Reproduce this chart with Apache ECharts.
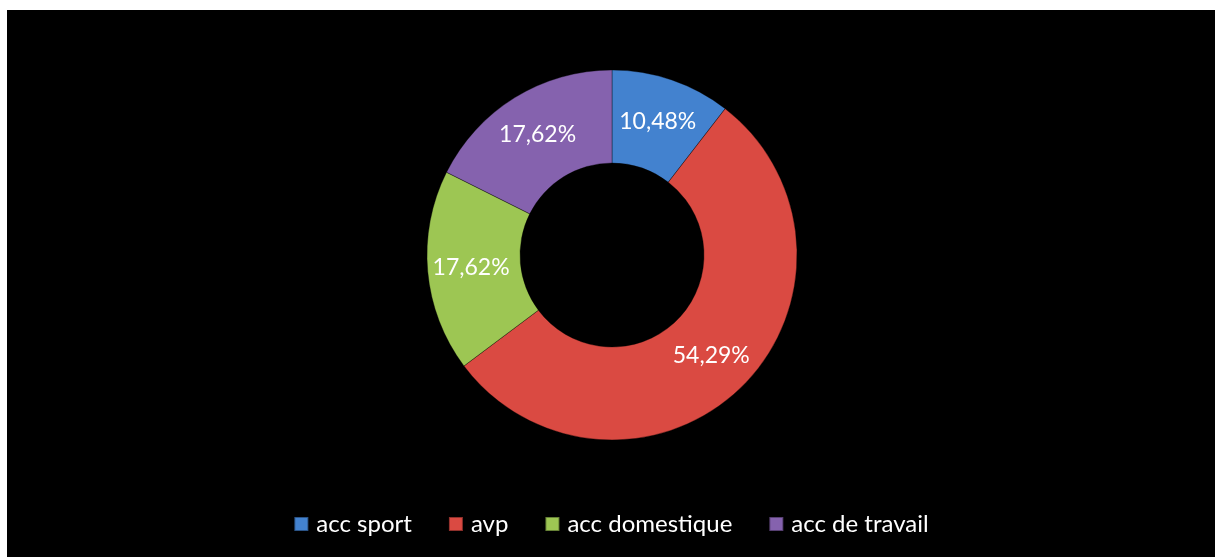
<!DOCTYPE html>
<html>
<head>
<meta charset="utf-8">
<script src="https://cdn.jsdelivr.net/npm/echarts@6/dist/echarts.min.js"></script>
<style>
    html, body { margin: 0; padding: 0; background: #fff; }
    #chart { position: absolute; left: 7px; top: 10px; width: 1208px; height: 547px; background: #000; }
</style>
</head>
<body>
<div id="chart"></div>
<script>
// categories and shares (%)
var categories = ['acc sport', 'avp', 'acc domestique', 'acc de travail'];
var shares = [10.48, 54.29, 17.62, 17.62];
var colors = ['#4382CF', '#DA4A42', '#9DC653', '#8562AE'];

function drawDonut(el){
    var domx = document.getElementById(el);
    var myChart = echarts.init(domx);

    var data = [];
    for (var i = 0; i < categories.length; i++) {
        data.push({name: categories[i], value: shares[i], itemStyle: {color: colors[i]}});
    }

    var option = {
        backgroundColor: '#000',
        animation: false,
        textStyle: {fontFamily: 'Lato'},
        legend: {
            data: categories,
            bottom: 16,
            left: 'center',
            icon: 'rect',
            itemWidth: 14,
            itemHeight: 14,
            itemGap: 36,
            textStyle: {color: '#fff', fontSize: 24, fontFamily: 'Lato', padding: [0, 0, 0, 3]}
        },
        series: [{
            name: 'accidents',
            type: 'pie',
            center: [605, 245],
            radius: [92, 185],
            startAngle: 90,
            clockwise: true,
            avoidLabelOverlap: false,
            itemStyle: {borderColor: 'rgba(0,0,0,0.35)', borderWidth: 1},
            label: {
                show: true,
                position: 'inside',
                color: '#fff',
                fontSize: 23,
                fontFamily: 'Lato',
                formatter: function(p){
                    return p.value.toFixed(2).replace('.', ',') + '%';
                }
            },
            labelLine: {show: false},
            data: data
        }]
    };
    myChart.setOption(option, true);
}

drawDonut('chart');
</script>
</body>
</html>
